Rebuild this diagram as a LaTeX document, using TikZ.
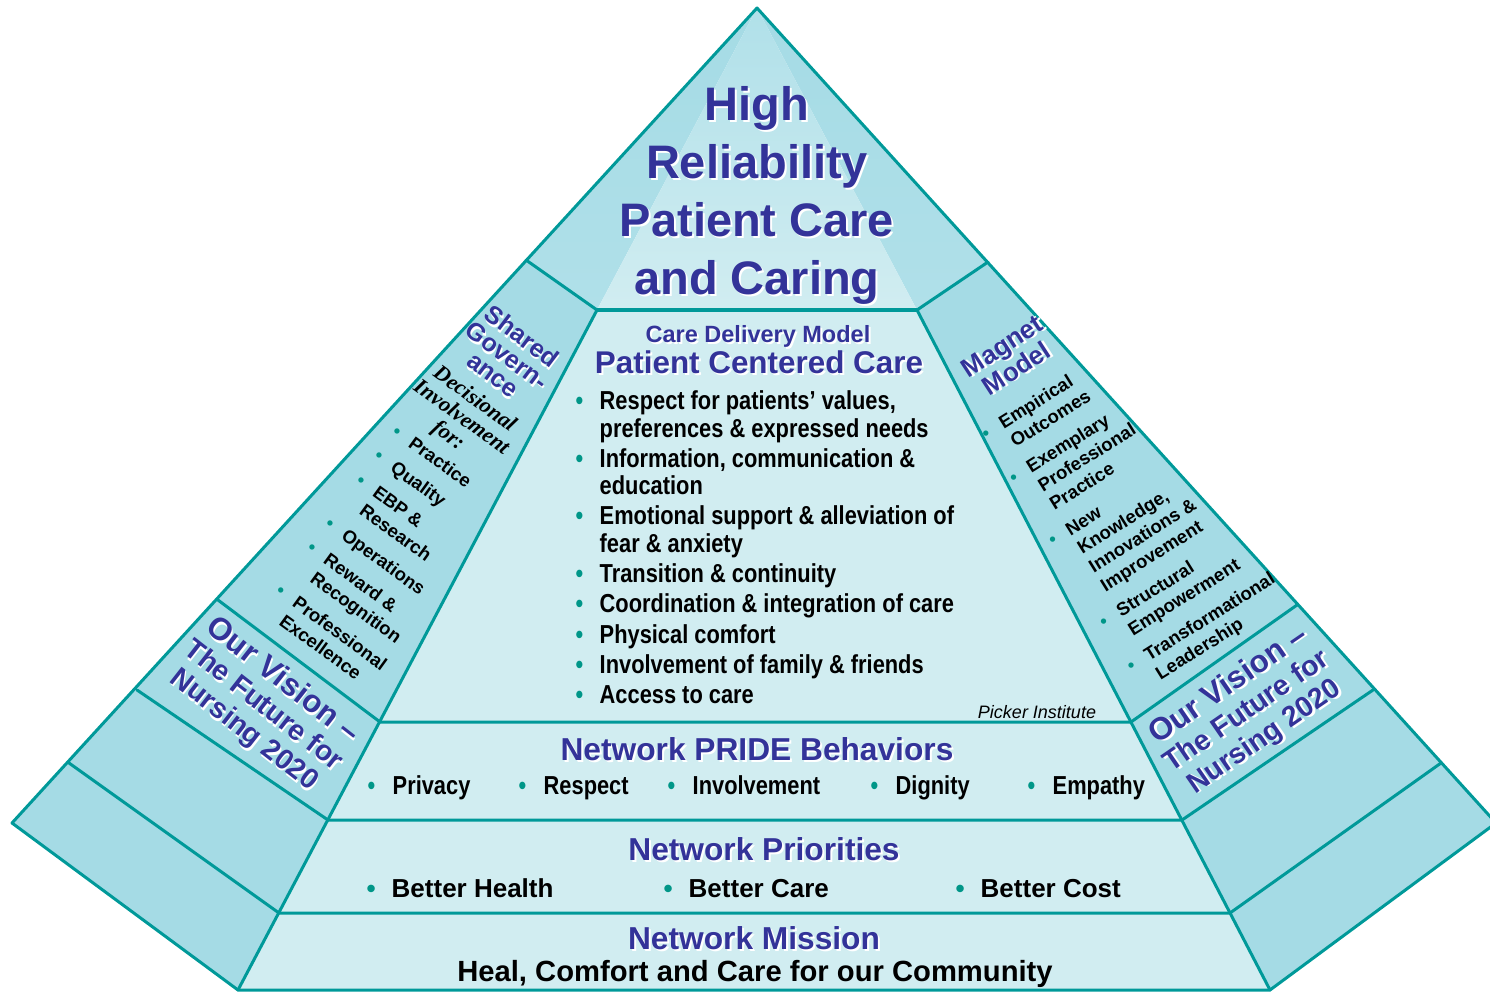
\documentclass[tikz,border=0pt]{standalone}
\usepackage{fontspec}
\setmainfont{Liberation Sans}
\newfontfamily\narrowfont{Liberation Sans}[FakeStretch=0.84]
\newfontfamily\serifbi{Liberation Serif}

\definecolor{tealline}{RGB}{0,153,153}
\definecolor{sidefill}{RGB}{165,219,229}
\definecolor{facefill}{RGB}{209,237,241}
\definecolor{apexfill}{RGB}{176,224,233}
\definecolor{headblue}{RGB}{51,51,153}
\definecolor{dotteal}{RGB}{0,150,136}

\newcommand\glow[1]{\leavevmode\rlap{\kern2pt\raisebox{-2pt}{\textcolor{white}{#1}}}#1}
\newcommand\dotmark{\textcolor{dotteal}{\textbullet}}
\newcommand\itm[1]{\makebox[#1][l]{\dotmark}}
\newcommand\itmgap[1]{\makebox[#1]{}}

\tikzset{
  outline/.style={draw=tealline, line width=3pt, line join=round, line cap=round},
  blueword/.style={text=headblue, inner sep=0pt, align=center},
  darkword/.style={text=black, inner sep=0pt},
  rowitem/.style={darkword, anchor=base west, font=\fontsize{26}{28}\selectfont\narrowfont\bfseries},
  goalitem/.style={darkword, anchor=base west, font=\fontsize{26}{28}\selectfont\bfseries},
}

\begin{document}
\begin{tikzpicture}[x=1pt, y=-1pt]
\useasboundingbox (0,0) rectangle (1490,992);

\coordinate (apex) at (757,8);
\coordinate (lA) at (526,260);
\coordinate (lB) at (218,600);
\coordinate (lC) at (137,690);
\coordinate (lD) at (69,763);
\coordinate (lE) at (12,823);
\coordinate (rA) at (988,262);
\coordinate (rB) at (1297,605);
\coordinate (rC) at (1373,690);
\coordinate (rD) at (1441,763);
\coordinate (rE) at (1496,823);
\coordinate (iL0) at (597,310);
\coordinate (iR0) at (917,310);
\coordinate (iL1) at (380,722);
\coordinate (iR1) at (1131,722);
\coordinate (iL2) at (328,820);
\coordinate (iR2) at (1182,820);
\coordinate (iL3) at (279,913);
\coordinate (iR3) at (1230,913);
\coordinate (iL4) at (238,990);
\coordinate (iR4) at (1270,990);

% faces
\fill[sidefill] (lA) -- (lE) -- (iL4) -- (iL0) -- cycle;
\fill[sidefill] (rA) -- (rE) -- (iR4) -- (iR0) -- cycle;
\fill[facefill] (iL0) -- (iR0) -- (iR4) -- (iL4) -- cycle;
\shade[top color=sidefill, bottom color=apexfill] (apex) -- (lA) -- (iL0) -- cycle;
\shade[top color=sidefill, bottom color=apexfill] (apex) -- (iR0) -- (rA) -- cycle;
\shade[top color=apexfill, bottom color=facefill] (apex) -- (iL0) -- (iR0) -- cycle;

% edges
\draw[outline] (iL4) -- (lE) -- (apex) -- (rE) -- (iR4) -- cycle;
\draw[outline] (lA) -- (iL0) -- (iL4);
\draw[outline] (rA) -- (iR0) -- (iR4);
\draw[outline, line width=4.5pt] (iL0) -- (iR0);
\draw[outline] (lB) -- (iL1) -- (iR1) -- (rB);
\draw[outline] (lC) -- (iL2) -- (iR2) -- (rC);
\draw[outline] (lD) -- (iL3) -- (iR3) -- (rD);

% top
\node[blueword, font=\fontsize{47}{58}\selectfont\bfseries] (hrtitle) at (757,196)
  {\glow{High}\\\glow{Reliability}\\\glow{Patient Care}\\\glow{and Caring}};

% care delivery model
\node[blueword, anchor=base, font=\fontsize{23.5}{26}\selectfont\bfseries] (cdmodel) at (758,342) {\glow{Care Delivery Model}};
\node[blueword, anchor=base, font=\fontsize{31.4}{34}\selectfont\bfseries] (pccare) at (759,373) {\glow{Patient Centered Care}};
\node[darkword, anchor=west, font=\fontsize{26}{27.5}\selectfont\narrowfont\bfseries] (pcclist) at (575.5,551) {%
\begin{tabular}{@{}l@{}}
\itm{24pt}Respect for patients’ values,\\
\itmgap{24pt}preferences \& expressed needs\\[2.7pt]
\itm{24pt}Information, communication \&\\
\itmgap{24pt}education\\[2.7pt]
\itm{24pt}Emotional support \& alleviation of\\
\itmgap{24pt}fear \& anxiety\\[2.7pt]
\itm{24pt}Transition \& continuity\\[2.7pt]
\itm{24pt}Coordination \& integration of care\\[2.7pt]
\itm{24pt}Physical comfort\\[2.7pt]
\itm{24pt}Involvement of family \& friends\\[2.7pt]
\itm{24pt}Access to care
\end{tabular}};
\node[darkword, anchor=base, font=\fontsize{18}{20}\selectfont\itshape] (picker) at (1037,718) {Picker Institute};

% PRIDE behaviors
\node[blueword, anchor=base, font=\fontsize{31.7}{34}\selectfont\bfseries] (pride) at (757,760) {\glow{Network PRIDE Behaviors}};
\node[rowitem] (privacy) at (367.5,794) {\itm{25pt}Privacy};
\node[rowitem] (respect) at (518.5,794) {\itm{25pt}Respect};
\node[rowitem] (involve) at (667.5,794) {\itm{25pt}Involvement};
\node[rowitem] (dignity) at (870.5,794) {\itm{25pt}Dignity};
\node[rowitem] (empathy) at (1027.5,794) {\itm{25pt}Empathy};

% priorities
\node[blueword, anchor=base, font=\fontsize{31.7}{34}\selectfont\bfseries] (priorities) at (764,860) {\glow{Network Priorities}};
\node[goalitem] (health) at (366.5,897) {\itm{25pt}Better Health};
\node[goalitem] (care) at (663.5,897) {\itm{25pt}Better Care};
\node[goalitem] (cost) at (955.5,897) {\itm{25pt}Better Cost};

% mission
\node[blueword, anchor=base, font=\fontsize{31.7}{34}\selectfont\bfseries] (mission) at (754,949) {\glow{Network Mission}};
\node[darkword, anchor=base, font=\fontsize{29.2}{32}\selectfont\bfseries] (heal) at (755,981) {Heal, Comfort and Care for our Community};

% left panel
\node[blueword, rotate=-37, font=\fontsize{25}{24}\selectfont\bfseries] (shgov) at (507,356) {\glow{Shared}\\\glow{Govern-}\\\glow{ance}};
\node[darkword, align=center, rotate=-36, font=\fontsize{22}{22.5}\selectfont\serifbi\bfseries\itshape] (decinv) at (461,418) {Decisional\\Involvement\\for:};
\node[darkword, anchor=north west, rotate=-36, font=\fontsize{18.5}{22.5}\selectfont\bfseries] (sglist) at (400,421) {%
\begin{tabular}{@{}l@{}}
\itm{20.5pt}Practice\\[8pt]
\itm{20.5pt}Quality\\[8pt]
\itm{20.5pt}EBP \&\\
\itmgap{20.5pt}Research\\[8pt]
\itm{20.5pt}Operations\\[8pt]
\itm{20.5pt}Reward \&\\
\itmgap{20.5pt}Recognition\\[8pt]
\itm{20.5pt}Professional\\
\itmgap{20.5pt}Excellence
\end{tabular}};
\node[blueword, rotate=-38, font=\fontsize{28.5}{31}\selectfont\bfseries] (visionL) at (263,706)
  {{\fontsize{31.5}{31}\selectfont\glow{Our Vision –}}\\\glow{The Future for}\\\glow{Nursing 2020}};

% right panel
\node[blueword, rotate=33, font=\fontsize{26}{26.5}\selectfont\bfseries] (magnet) at (1010,358) {\glow{Magnet}\\\glow{Model}};
\node[darkword, anchor=north west, rotate=32, font=\fontsize{18.5}{22}\selectfont\bfseries] (mglist) at (978,427) {%
\begin{tabular}{@{}l@{}}
\itm{20.5pt}Empirical\\
\itmgap{20.5pt}Outcomes\\[8pt]
\itm{20.5pt}Exemplary\\
\itmgap{20.5pt}Professional\\
\itmgap{20.5pt}Practice\\[8pt]
\itm{20.5pt}New\\
\itmgap{20.5pt}Knowledge,\\
\itmgap{20.5pt}Innovations \&\\
\itmgap{20.5pt}Improvement\\[8pt]
\itm{20.5pt}Structural\\
\itmgap{20.5pt}Empowerment\\[8pt]
\itm{20.5pt}Transformational\\
\itmgap{20.5pt}Leadership
\end{tabular}};
\node[blueword, rotate=34.5, font=\fontsize{28.5}{31}\selectfont\bfseries] (visionR) at (1247,712)
  {{\fontsize{31.5}{31}\selectfont\glow{Our Vision –}}\\\glow{The Future for}\\\glow{Nursing 2020}};
\end{tikzpicture}
\end{document}
